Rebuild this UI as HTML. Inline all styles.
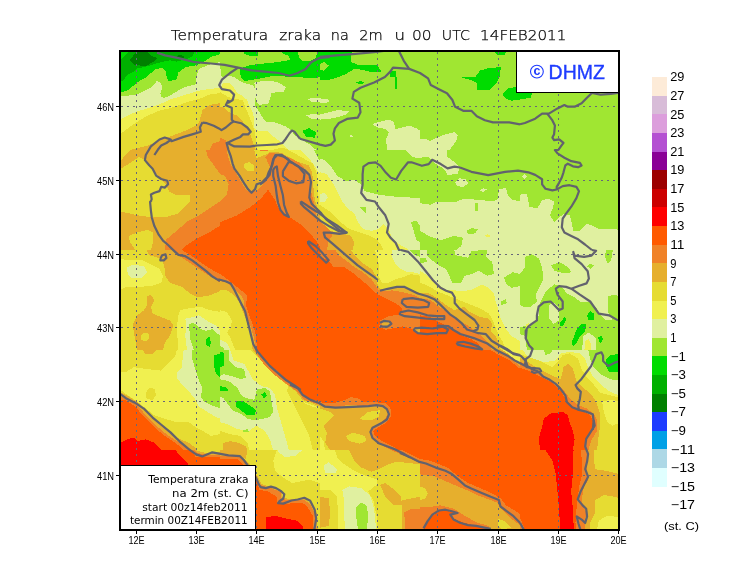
<!DOCTYPE html><html><head><meta charset="utf-8"><title>Temperatura zraka</title><style>html,body{margin:0;padding:0;background:#fff;}svg{display:block}text{font-family:"Liberation Sans",sans-serif}</style></head><body>
<svg width="740" height="582" viewBox="0 0 740 582" shape-rendering="crispEdges">
<rect width="740" height="582" fill="#fff"/>
<defs><clipPath id="mc"><rect x="121" y="52" width="497" height="477"/></clipPath></defs>
<g clip-path="url(#mc)">
<rect x="121" y="52" width="497" height="477" fill="#a0e632"/>
<svg x="120" y="50" width="100" height="100" viewBox="0 0 582 582" overflow="hidden" preserveAspectRatio="none">
<polygon points="0,268 50,265 100,258 150,235 185,215 215,180 240,195 245,220 235,250 240,272 255,278 290,266 340,235 380,215 440,200 445,150 460,110 520,85 582,70 582,582 0,582" fill="#e0f0a0"/>
<polygon points="0,405 50,378 100,358 150,343 210,323 260,303 291,288 400,255 445,240 500,230 582,220 582,582 0,582" fill="#f0f050"/>
<polygon points="0,490 50,453 100,418 150,388 215,358 260,345 291,340 400,300 460,285 520,260 582,250 582,582 0,582" fill="#e6dc32"/>
<polygon points="582,310 520,320 480,350 460,420 440,440 380,470 300,500 230,525 160,558 120,566 80,577 60,582 582,582" fill="#e6af2d"/>
<polygon points="582,530 540,545 520,582 582,582" fill="#f08228"/>
<polygon points="0,0 582,0 582,25 530,40 500,60 470,75 440,90 380,100 340,130 330,170 291,180 280,180 270,150 265,120 250,105 210,110 185,130 150,160 105,185 75,210 45,235 8,245 0,245" fill="#00dc00"/>
<polygon points="64,0 440,0 420,40 380,55 330,68 291,60 270,65 240,70 190,85 140,100 100,108 80,125 45,145 20,174 6,185 0,185 0,58" fill="#00b000"/>
<polygon points="105,0 146,0 175,29 215,47 204,64 151,93 81,87 58,58 76,35" fill="#008000"/>
<polygon points="330,35 350,28 380,40 360,50 335,48" fill="#008000"/>
</svg>
<svg x="220" y="50" width="100" height="100" viewBox="0 0 582 582" overflow="hidden" preserveAspectRatio="none">
<polygon points="0,99 5,119 5,149 20,159 55,149 84,159 115,179 146,194 190,205 210,230 207,274 203,324 230,363 253,401 269,418 313,418 340,429 385,445 412,467 434,495 467,517 495,533 535,559 559,582 0,582" fill="#e0f0a0"/>
<polygon points="200,190 260,178 330,185 385,215 370,242 300,250 290,285 280,312 230,320 210,300" fill="#e0f0a0"/>
<polygon points="510,285 545,278 582,282 582,300 540,305" fill="#e0f0a0"/>
<polygon points="500,380 540,372 582,378 582,402 530,400" fill="#e0f0a0"/>
<polygon points="0,219 20,194 55,194 80,219 105,254 122,262 159,291 170,324 192,363 197,401 200,456 230,473 275,473 307,501 335,522 357,539 379,561 396,582 0,582" fill="#f0f050"/>
<polygon points="0,244 12,256 29,262 47,274 87,285 132,291 148,335 170,385 186,429 203,473 208,511 214,550 219,582 0,582" fill="#e6dc32"/>
<polygon points="0,333 23,334 47,358 70,372 93,378 120,401 154,445 175,484 186,522 197,550 208,582 0,582" fill="#e6af2d"/>
<polygon points="279,582 313,579 362,568 395,579 399,582" fill="#e6dc32"/>
<polygon points="0,512 35,524 47,582 0,582" fill="#f08228"/>
<polygon points="139,12 223,12 223,32 175,35 140,23" fill="#00dc00"/>
<polygon points="355,12 454,12 460,47 483,64 524,64 559,47 565,12 582,12 582,157 530,165 452,157 372,154 294,154 215,169 145,181 121,157 113,110 176,87 255,79 333,71 407,58 402,35 372,23" fill="#00dc00"/>
<polygon points="480,470 520,455 560,480 550,510 500,505" fill="#00dc00"/>
</svg>
<svg x="320" y="50" width="100" height="100" viewBox="0 0 582 582" overflow="hidden" preserveAspectRatio="none">
<polygon points="0,282 45,285 55,298 40,308 0,308" fill="#e0f0a0"/>
<polygon points="0,375 60,360 100,350 170,355 150,375 110,390 60,400 0,405" fill="#e0f0a0"/>
<polygon points="305,430 360,415 400,405 430,420 440,460 480,450 520,440 560,455 582,470 582,582 390,582 385,520 400,480 380,460 330,450" fill="#e0f0a0"/>
<polygon points="175,495 188,495 190,505 176,505" fill="#e0f0a0"/>
<polygon points="0,0 190,0 180,40 180,70 230,90 280,85 330,85 350,115 360,125 300,130 250,115 200,110 150,140 100,160 60,172 0,172" fill="#00dc00"/>
<polygon points="0,80 25,70 50,90 20,120 0,115" fill="#a0e632"/>
<polygon points="405,125 440,120 440,160 410,160" fill="#00dc00"/>
<polygon points="438,160 446,160 446,225 438,225" fill="#00dc00"/>
<polygon points="205,190 235,180 260,192 235,200" fill="#00dc00"/>
</svg>
<svg x="420" y="50" width="100" height="100" viewBox="0 0 582 582" overflow="hidden" preserveAspectRatio="none">
<polygon points="0,520 40,520 60,530 100,510 150,490 200,478 220,495 210,530 190,560 170,582 0,582" fill="#e0f0a0"/>
<polygon points="245,155 320,160 350,120 400,105 470,100 465,150 440,200 410,230 330,230 330,190 300,175 245,162" fill="#00dc00"/>
<polygon points="430,0 510,0 490,30 450,32" fill="#00dc00"/>
<polygon points="480,260 510,225 560,215 582,215 582,290 530,295 500,285" fill="#00dc00"/>
</svg>
<svg x="520" y="50" width="100" height="100" viewBox="0 0 582 582" overflow="hidden" preserveAspectRatio="none">
<polygon points="0,237 70,237 65,280 0,285" fill="#00dc00"/>
</svg>
<svg x="120" y="150" width="100" height="100" viewBox="0 0 582 582" overflow="hidden" preserveAspectRatio="none">
<polygon points="0,0 582,0 582,582 0,582" fill="#e6af2d"/>
<polygon points="0,0 60,0 40,20 8,59 0,62" fill="#e6dc32"/>
<polygon points="0,110 20,100 60,75 110,40 150,60 190,120 230,160 265,200 290,245 330,262 410,265 405,300 340,370 260,392 190,392 100,380 40,365 0,360" fill="#e6dc32"/>
<polygon points="50,500 100,480 160,465 190,480 195,530 180,582 90,582 60,540" fill="#e6dc32"/>
<polygon points="500,0 582,0 582,140 540,80 510,40" fill="#f08228"/>
<polygon points="582,300 520,340 460,380 400,410 330,470 270,520 260,582 582,582" fill="#f08228"/>
<polygon points="582,440 520,480 440,520 380,560 360,582 582,582" fill="#ff5a00"/>
</svg>
<svg x="220" y="150" width="100" height="100" viewBox="0 0 582 582" overflow="hidden" preserveAspectRatio="none">
<polygon points="0,0 582,0 582,582 0,582" fill="#f08228"/>
<polygon points="40,0 200,0 210,47 244,35 268,47 290,100 270,160 250,200 220,230 180,250 150,230 120,180 90,130 60,80 45,30" fill="#e6af2d"/>
<polygon points="0,140 30,150 50,200 40,260 0,300" fill="#e6af2d"/>
<polygon points="140,80 170,70 200,90 195,120 160,125 140,105" fill="#e6dc32"/>
<polygon points="200,0 230,2 262,8 291,0 407,0 434,19 472,41 501,58 539,77 553,112 564,140 567,175 570,210 574,279 581,336 582,338 582,367 567,336 553,294 546,244 542,196 539,154 532,119 518,91 483,79 439,63 406,44 362,19 323,10 285,19 244,35 210,47" fill="#e6dc32"/>
<polygon points="244,35 285,19 323,10 362,19 406,44 439,63 483,79 518,91 532,119 539,154 542,196 546,244 553,294 567,336 582,367 582,420 560,380 545,300 530,240 520,170 500,120 470,80 420,50 360,30 320,20 290,12 262,47" fill="#e6af2d"/>
<polygon points="396,0 469,0 511,42 546,84 567,119 582,140 582,338 581,336 574,279 570,210 567,175 564,140 553,112 539,77 501,58 472,41 434,19" fill="#f0f050"/>
<polygon points="469,0 546,0 560,28 574,56 582,61 582,140 567,119 546,84 511,42" fill="#e0f0a0"/>
<polygon points="546,0 582,0 582,61 574,56 560,28" fill="#a0e632"/>
<polygon points="0,420 100,380 180,330 240,280 280,230 320,290 345,350 420,400 480,440 520,480 560,530 582,560 582,582 0,582" fill="#ff5a00"/>
</svg>
<svg x="320" y="150" width="100" height="100" viewBox="0 0 582 582" overflow="hidden" preserveAspectRatio="none">
<polygon points="0,50 30,60 60,90 100,150 150,180 200,175 240,200 260,240 340,260 420,270 500,275 582,280 582,582 0,582" fill="#e0f0a0"/>
<polygon points="500,0 582,0 582,50 540,40" fill="#e0f0a0"/>
<polygon points="230,330 270,335 265,365" fill="#a0e632"/>
<polygon points="530,420 560,410 582,440 582,540 560,520" fill="#a0e632"/>
<polygon points="0,130 40,140 80,200 110,260 130,300 160,340 200,370 220,420 250,460 300,470 340,460 370,430 400,460 420,520 480,560 520,582 0,582" fill="#f0f050"/>
<polygon points="0,255 30,250 45,275 30,300 0,300" fill="#e0f0a0"/>
<polygon points="0,320 60,360 120,420 170,460 230,480 290,500 330,520 360,560 370,582 0,582" fill="#e6dc32"/>
<polygon points="0,400 50,470 110,480 180,500 200,540 190,582 0,582" fill="#e6af2d"/>
<polygon points="0,420 30,440 60,470 70,500 50,530 40,582 0,582" fill="#f08228"/>
</svg>
<svg x="420" y="150" width="100" height="100" viewBox="0 0 582 582" overflow="hidden" preserveAspectRatio="none">
<polygon points="0,0 155,0 160,40 200,70 230,100 220,140 160,145 140,110 90,80 50,40 0,45" fill="#e0f0a0"/>
<polygon points="205,190 230,165 265,170 280,195 250,215 215,210" fill="#e0f0a0"/>
<polygon points="345,235 370,222 390,230 365,245" fill="#e0f0a0"/>
<polygon points="0,310 60,318 100,300 200,305 250,285 350,290 420,300 450,290 460,230 500,220 510,260 540,290 582,300 582,582 0,582" fill="#e0f0a0"/>
<polygon points="0,470 60,505 120,525 200,500 250,510 240,560 210,582 0,582" fill="#a0e632"/>
<polygon points="270,470 300,455 340,460 320,485 280,492" fill="#a0e632"/>
<polygon points="322,310 335,310 335,355 322,355" fill="#a0e632"/>
<polygon points="375,500 395,490 415,500 395,510" fill="#f0f050"/>
</svg>
<svg x="520" y="150" width="100" height="100" viewBox="0 0 582 582" overflow="hidden" preserveAspectRatio="none">
<polygon points="0,260 40,255 55,330 100,340 130,290 170,285 200,300 190,340 175,380 200,420 230,390 260,370 290,380 300,420 310,470 350,470 390,430 420,440 460,460 520,460 560,460 582,470 582,582 0,582" fill="#e0f0a0"/>
<polygon points="10,155 25,140 40,155 25,170" fill="#e0f0a0"/>
</svg>
<svg x="120" y="250" width="100" height="100" viewBox="0 0 582 582" overflow="hidden" preserveAspectRatio="none">
<polygon points="0,0 582,0 582,582 0,582" fill="#e6dc32"/>
<polygon points="0,50 40,60 130,60 190,90 230,110 250,150 240,190 180,210 100,215 40,215 0,230" fill="#f0f050"/>
<polygon points="40,100 80,85 140,95 160,130 130,160 70,165 45,140" fill="#e0f0a0"/>
<polygon points="155,0 300,0 340,30 400,70 460,110 520,150 582,190 582,240 520,265 450,275 410,255 360,215 290,190 262,150 258,90 240,50 170,30" fill="#e6af2d"/>
<polygon points="310,0 582,0 582,190 520,150 460,110 400,70 340,30" fill="#f08228"/>
<polygon points="360,0 582,0 582,140 560,130 480,80 410,30" fill="#ff5a00"/>
<polygon points="75,430 100,380 140,350 160,320 160,270 180,260 200,290 180,330 190,370 240,390 290,410 310,440 290,500 260,540 250,582 100,582 90,530 80,480" fill="#e6af2d"/>
<polygon points="120,500 140,480 165,485 170,515 150,530 125,525" fill="#e6dc32"/>
<polygon points="350,350 400,340 470,330 520,350 582,360 582,582 340,582 330,450 340,380" fill="#f0f050"/>
<polygon points="380,400 430,390 460,380 520,420 560,440 582,470 582,582 390,582 380,500 385,440" fill="#e0f0a0"/>
<polygon points="400,430 430,425 470,460 500,470 540,460 582,500 582,582 430,582 410,520" fill="#a0e632"/>
<polygon points="500,520 520,505 530,540 520,565 500,550" fill="#00dc00"/>
</svg>
<svg x="220" y="250" width="100" height="100" viewBox="0 0 582 582" overflow="hidden" preserveAspectRatio="none">
<polygon points="0,0 582,0 582,582 0,582" fill="#ff5a00"/>
<polygon points="0,140 30,160 80,200 130,240 160,270 150,320 170,380 190,430 210,500 215,582 0,582" fill="#f08228"/>
<polygon points="0,180 40,190 80,220 120,260 140,300 140,340 160,400 180,450 200,520 205,582 0,582" fill="#e6af2d"/>
<polygon points="0,230 40,235 80,260 110,300 130,350 150,400 165,450 180,500 190,582 0,582" fill="#e6dc32"/>
<polygon points="0,350 40,360 70,410 60,450 40,480 60,510 80,560 90,582 0,582" fill="#f0f050"/>
<polygon points="0,520 40,540 60,582 0,582" fill="#e0f0a0"/>
<polygon points="0,560 20,570 25,582 0,582" fill="#a0e632"/>
</svg>
<svg x="320" y="250" width="100" height="100" viewBox="0 0 582 582" overflow="hidden" preserveAspectRatio="none">
<polygon points="0,0 582,0 582,582 0,582" fill="#ff5a00"/>
<polygon points="0,0 582,0 582,490 540,460 480,445 430,455 380,465 345,445 350,410 400,385 470,375 480,340 440,310 390,285 340,260 300,230 260,190 200,140 140,100 80,100 50,60 0,40" fill="#f08228"/>
<polygon points="90,0 582,0 582,280 540,260 480,245 420,235 380,240 340,230 320,200 300,170 250,130 200,100 150,60 110,30" fill="#e6af2d"/>
<polygon points="360,420 385,408 410,420 400,440 365,440" fill="#e6af2d"/>
<polygon points="550,460 582,450 582,485 560,480" fill="#e6af2d"/>
<polygon points="180,0 582,0 582,250 520,225 460,215 400,225 350,230 330,190 325,150 300,110 240,70 200,30" fill="#e6dc32"/>
<polygon points="320,0 582,0 582,150 530,140 480,160 440,170 400,190 360,190 340,150 345,100 335,50" fill="#f0f050"/>
<polygon points="420,0 582,0 582,140 540,130 500,125 470,110 440,80 420,40" fill="#e0f0a0"/>
<polygon points="520,0 582,0 582,40 550,30" fill="#a0e632"/>
</svg>
<svg x="420" y="250" width="100" height="100" viewBox="0 0 582 582" overflow="hidden" preserveAspectRatio="none">
<polygon points="0,0 582,0 582,582 0,582" fill="#e0f0a0"/>
<polygon points="40,0 200,0 205,30 280,45 300,5 390,0 385,40 420,70 430,140 390,150 340,120 300,140 260,150 240,190 190,195 175,160 150,110 110,90 70,60 40,30" fill="#a0e632"/>
<polygon points="0,50 30,45 45,65 0,80" fill="#a0e632"/>
<polygon points="490,160 540,130 582,140 582,210 530,220 500,195" fill="#a0e632"/>
<polygon points="470,300 500,285 505,310 475,320" fill="#a0e632"/>
<polygon points="0,120 30,140 60,170 100,200 150,230 200,235 250,240 300,230 340,210 360,200 400,220 430,250 440,300 460,360 470,400 500,460 530,500 582,530 582,582 0,582" fill="#f0f050"/>
<polygon points="0,190 50,210 100,240 200,280 250,300 300,320 350,340 400,370 420,400 440,450 460,500 480,530 500,582 0,582" fill="#e6dc32"/>
<polygon points="0,250 50,250 100,280 150,320 200,350 260,330 290,360 350,390 400,400 420,430 410,470 440,500 460,540 470,582 0,582" fill="#e6af2d"/>
<polygon points="0,280 60,290 110,330 170,370 220,410 280,440 330,480 370,510 400,540 420,582 0,582" fill="#f08228"/>
<polygon points="0,380 60,390 110,420 150,440 200,470 250,500 300,520 340,545 360,582 0,582" fill="#ff5a00"/>
</svg>
<svg x="520" y="250" width="100" height="100" viewBox="0 0 582 582" overflow="hidden" preserveAspectRatio="none">
<polygon points="0,0 582,0 582,582 0,582" fill="#e0f0a0"/>
<polygon points="0,140 30,100 30,40 70,25 110,50 130,110 135,170 110,220 90,260 100,300 60,330 20,330 0,320" fill="#a0e632"/>
<polygon points="120,300 150,240 200,200 240,210 270,250 310,270 350,300 400,300 440,330 470,380 500,410 540,410 582,420 582,582 0,582 0,450 40,440 90,420 110,380 110,330" fill="#a0e632"/>
<polygon points="170,320 200,305 225,330 225,410 195,430 170,400" fill="#e0f0a0"/>
<polygon points="0,490 30,500 40,582 0,582" fill="#e0f0a0"/>
<polygon points="370,500 400,480 440,510 440,582 360,582" fill="#e0f0a0"/>
<polygon points="380,530 400,520 415,550 410,582 375,582" fill="#f0f050"/>
<polygon points="30,435 50,425 60,445 40,455" fill="#f0f050"/>
<polygon points="180,90 230,70 280,100 300,130 250,135 200,120" fill="#a0e632"/>
<polygon points="500,0 540,0 530,60 510,80 495,40" fill="#a0e632"/>
<polygon points="510,270 550,260 582,270 582,420 540,410 510,360" fill="#a0e632"/>
<polygon points="390,95 410,80 430,90 410,110" fill="#a0e632"/>
<polygon points="390,380 410,355 430,370 430,410 400,410" fill="#00dc00"/>
<polygon points="300,540 330,460 360,430 385,430 380,470 350,500 330,540 310,560" fill="#00dc00"/>
<polygon points="455,510 475,500 485,520 465,545" fill="#00dc00"/>
<polygon points="235,420 260,390 270,400 250,440 235,440" fill="#00dc00"/>
</svg>
<svg x="120" y="350" width="100" height="100" viewBox="0 0 582 582" overflow="hidden" preserveAspectRatio="none">
<polygon points="0,0 582,0 582,582 0,582" fill="#f0f050"/>
<polygon points="0,0 330,0 320,40 270,90 240,120 150,110 80,100 30,130 0,130" fill="#e6dc32"/>
<polygon points="130,0 210,0 190,25 150,25" fill="#e6af2d"/>
<polygon points="150,250 170,220 200,225 210,260 190,290 155,285" fill="#e6dc32"/>
<polygon points="330,130 360,100 370,0 582,0 582,400 540,380 460,330 440,290 400,240 360,200 330,160" fill="#e0f0a0"/>
<polygon points="420,0 582,0 582,340 530,320 490,300 470,270 480,220 460,180 440,120 420,50" fill="#a0e632"/>
<polygon points="550,30 582,20 582,160 555,130 545,80" fill="#00dc00"/>
<polygon points="0,230 40,260 100,300 150,340 200,380 260,400 330,420 400,420 440,450 480,470 530,500 582,490 582,582 0,582" fill="#e6dc32"/>
<polygon points="0,245 50,270 110,310 170,370 230,430 290,480 350,520 400,540 440,570 445,582 0,582" fill="#e6af2d"/>
<polygon points="0,270 40,285 100,320 150,380 210,440 270,490 330,530 380,555 420,582 0,582" fill="#f08228"/>
<polygon points="0,290 30,290 90,330 140,390 200,450 260,500 320,540 360,570 370,582 0,582" fill="#ff5a00"/>
<polygon points="0,540 40,520 80,510 100,530 150,520 200,540 240,582 0,582" fill="#ff0000"/>
</svg>
<svg x="220" y="350" width="100" height="100" viewBox="0 0 582 582" overflow="hidden" preserveAspectRatio="none">
<polygon points="0,0 582,0 582,582 0,582" fill="#f0f050"/>
<polygon points="0,0 60,0 80,60 140,80 170,130 190,170 240,210 290,220 320,260 330,330 350,400 370,470 390,540 400,582 310,582 290,520 260,470 210,440 170,470 100,460 40,430 0,420" fill="#e0f0a0"/>
<polygon points="0,0 50,0 50,60 90,100 140,110 150,160 120,170 60,150 20,140 0,150" fill="#a0e632"/>
<polygon points="0,170 50,180 100,220 120,260 150,280 200,290 215,230 260,220 290,240 300,300 310,360 290,390 250,400 200,410 160,400 120,370 70,350 50,320 20,280 0,270" fill="#a0e632"/>
<polygon points="130,470 160,460 170,480 135,480" fill="#a0e632"/>
<polygon points="0,10 20,10 25,90 0,100" fill="#00dc00"/>
<polygon points="0,210 40,220 50,240 0,240" fill="#00dc00"/>
<polygon points="95,300 130,295 170,320 210,350 200,380 160,380 120,350 95,330" fill="#00dc00"/>
<polygon points="240,260 260,245 275,265 255,280" fill="#00dc00"/>
<polygon points="0,470 60,490 120,500 160,540 170,582 0,582" fill="#e6dc32"/>
<polygon points="20,540 60,530 110,540 150,560 160,582 20,582" fill="#e6af2d"/>
<polygon points="400,200 450,260 490,310 540,330 582,340 582,582 540,582 520,500 480,420 450,360 420,300 390,240" fill="#e6dc32"/>
<polygon points="180,0 582,0 582,340 540,320 480,300 440,250 390,200 330,150 290,110 240,60" fill="#e6dc32"/>
<polygon points="190,0 582,0 582,330 540,310 480,290 440,240 400,210 350,170 300,130 240,60" fill="#e6af2d"/>
<polygon points="200,0 582,0 582,320 540,305 490,290 460,250 420,220 370,185 310,140 260,90 225,40" fill="#f08228"/>
<polygon points="220,0 582,0 582,300 540,290 500,280 470,240 430,210 380,170 330,120 280,80 240,30" fill="#ff5a00"/>
</svg>
<svg x="320" y="350" width="100" height="100" viewBox="0 0 582 582" overflow="hidden" preserveAspectRatio="none">
<polygon points="0,0 582,0 582,582 0,582" fill="#ff5a00"/>
<polygon points="0,305 80,310 150,290 180,275 220,280 250,300 330,305 380,310 410,340 415,380 390,420 340,450 310,470 320,500 360,530 400,550 440,570 450,582 0,582" fill="#f08228"/>
<polygon points="0,320 100,335 160,320 250,325 330,320 380,335 395,370 375,405 320,445 290,470 300,510 340,540 380,565 410,582 0,582" fill="#e6af2d"/>
<polygon points="0,340 60,360 80,380 50,410 20,440 40,480 30,540 60,582 0,582" fill="#e6dc32"/>
<polygon points="230,400 280,360 350,350 340,390 300,410 260,410" fill="#e6dc32"/>
<polygon points="150,500 190,480 260,500 270,530 230,545 170,530" fill="#e6dc32"/>
<polygon points="0,500 20,530 30,582 0,582" fill="#f0f050"/>
</svg>
<svg x="420" y="350" width="100" height="100" viewBox="0 0 582 582" overflow="hidden" preserveAspectRatio="none">
<polygon points="0,0 582,0 582,582 0,582" fill="#ff5a00"/>
<polygon points="410,0 582,0 582,110 520,60 460,30" fill="#f08228"/>
<polygon points="450,0 582,0 582,95 540,60 490,25" fill="#e6af2d"/>
<polygon points="480,0 582,0 582,80 540,45 510,20" fill="#f0f050"/>
</svg>
<svg x="520" y="350" width="100" height="100" viewBox="0 0 582 582" overflow="hidden" preserveAspectRatio="none">
<polygon points="0,0 582,0 582,582 0,582" fill="#f0f050"/>
<polygon points="18,0 588,0 588,270 518,240 468,200 428,160 398,110 378,50 348,20 288,10 238,20 208,60 148,70 88,60 38,30" fill="#e0f0a0"/>
<polygon points="398,0 588,0 588,180 528,170 468,140 428,100 408,50" fill="#a0e632"/>
<polygon points="138,0 188,0 178,20 148,30" fill="#a0e632"/>
<polygon points="498,60 528,30 588,20 588,130 518,130 503,100" fill="#00dc00"/>
<polygon points="-12,20 48,40 108,60 188,100 228,60 248,30 288,20 338,50 358,110 388,160 428,200 468,250 588,280 588,582 -12,582" fill="#e6dc32"/>
<polygon points="478,300 528,290 588,300 588,420 538,440 508,420 488,360" fill="#f0f050"/>
<polygon points="-12,40 48,70 108,110 188,150 238,170 253,100 278,80 308,110 328,180 368,220 408,250 443,300 463,360 468,430 458,500 448,582 -12,582" fill="#e6af2d"/>
<polygon points="-12,60 68,100 138,150 208,190 258,240 288,280 338,320 388,340 428,370 448,410 448,470 418,520 398,582 -12,582" fill="#f08228"/>
<polygon points="-12,100 48,120 108,150 188,190 238,240 268,290 308,330 368,360 408,380 428,420 418,470 388,520 378,582 -12,582" fill="#ff5a00"/>
<polygon points="138,400 178,370 248,360 278,380 288,420 308,470 318,520 308,582 118,582 108,520 128,450" fill="#ff0000"/>
</svg>
<svg x="120" y="450" width="100" height="100" viewBox="0 0 582 582" overflow="hidden" preserveAspectRatio="none">
<polygon points="0,0 582,0 582,582 0,582" fill="#ff0000"/>
<polygon points="260,-58 582,-58 582,87 400,87 380,62 340,22 300,-28" fill="#ff5a00"/>
<polygon points="300,-58 582,-58 582,42 440,42 420,2 360,-28" fill="#f08228"/>
<polygon points="320,-58 582,-58 582,27 500,27 450,17 420,-13 370,-43" fill="#e6af2d"/>
<polygon points="340,-58 582,-58 582,12 500,17 455,7 425,-23 380,-48" fill="#e6dc32"/>
</svg>
<svg x="220" y="450" width="100" height="100" viewBox="0 0 582 582" overflow="hidden" preserveAspectRatio="none">
<polygon points="0,0 582,0 582,582 0,582" fill="#e6dc32"/>
<polygon points="330,-58 582,-58 582,192 520,172 470,182 420,192 370,162 320,122 310,62 330,2" fill="#f0f050"/>
<polygon points="330,-58 500,-58 490,-8 440,32 380,42 340,12" fill="#e0f0a0"/>
<polygon points="0,-58 150,-58 160,2 150,52 100,32 0,32" fill="#e6af2d"/>
<polygon points="0,32 110,27 160,67 215,147 240,197 300,217 355,237 365,277 410,287 490,282 530,312 565,372 570,524 0,524" fill="#e6af2d"/>
<polygon points="0,34 110,32 155,70 212,152 235,204 300,224 352,244 358,284 410,294 490,290 528,320 558,382 562,524 0,524" fill="#f08228"/>
<polygon points="0,52 100,52 140,92 210,172 230,232 280,242 330,272 330,312 400,312 480,307 510,332 540,382 540,524 0,524" fill="#ff5a00"/>
<polygon points="270,392 320,382 400,402 450,412 480,442 490,524 270,524" fill="#ff0000"/>
</svg>
<svg x="320" y="450" width="100" height="100" viewBox="0 0 582 582" overflow="hidden" preserveAspectRatio="none">
<polygon points="0,0 582,0 582,582 0,582" fill="#f0f050"/>
<polygon points="70,-58 582,-58 582,524 340,524 330,392 310,292 280,242 330,202 330,172 270,152 200,122 140,82 100,42" fill="#e6dc32"/>
<polygon points="0,232 60,232 100,272 110,524 0,524" fill="#e6dc32"/>
<polygon points="150,-58 310,-58 350,-28 430,2 520,42 582,62 582,82 520,77 450,67 400,82 340,112 300,127 240,102 200,62 170,2" fill="#e6af2d"/>
<polygon points="350,202 380,192 420,222 470,272 480,322 430,322 380,272" fill="#e6af2d"/>
<polygon points="0,272 50,282 60,362 50,442 0,452" fill="#e6af2d"/>
<polygon points="480,292 582,272 582,524 480,524" fill="#e6af2d"/>
<polygon points="340,-58 582,-58 582,77 530,52 440,12 360,-28" fill="#f08228"/>
<polygon points="490,362 530,342 582,342 582,524 500,524" fill="#f08228"/>
<polygon points="380,-58 582,-58 582,52 520,22 450,-13" fill="#ff5a00"/>
<polygon points="130,232 170,212 240,222 290,262 310,322 320,382 330,524 150,524 140,372 140,292" fill="#e0f0a0"/>
<polygon points="20,92 50,72 100,112 90,132 30,132" fill="#e0f0a0"/>
<polygon points="210,332 240,307 270,322 280,372 270,524 230,524 210,382" fill="#a0e632"/>
</svg>
<svg x="420" y="450" width="100" height="100" viewBox="0 0 582 582" overflow="hidden" preserveAspectRatio="none">
<polygon points="0,0 582,0 582,582 0,582" fill="#ff5a00"/>
<polygon points="0,52 60,62 160,102 220,152 280,192 350,222 420,252 470,282 500,322 550,352 582,372 582,582 0,582" fill="#f08228"/>
<polygon points="0,142 80,152 150,182 220,212 270,232 330,262 400,287 450,307 470,342 520,392 582,437 582,582 0,582" fill="#e6af2d"/>
<polygon points="0,212 30,222 45,252 30,282 0,292" fill="#e6dc32"/>
<polygon points="455,402 490,412 530,452 480,462 455,442" fill="#e6dc32"/>
<polygon points="0,332 60,332 120,322 200,342 260,382 330,422 400,442 420,582 0,582" fill="#f08228"/>
<polygon points="20,462 60,392 120,352 200,362 180,392 250,422 330,442 380,452 400,462 400,582 0,582" fill="#ff5a00"/>
</svg>
<svg x="520" y="450" width="100" height="100" viewBox="0 0 582 582" overflow="hidden" preserveAspectRatio="none">
<polygon points="0,0 582,0 582,582 0,582" fill="#ff5a00"/>
<polygon points="108,-58 318,-58 308,42 308,142 298,242 308,342 318,582 238,582 228,342 218,242 208,142 188,62 148,2" fill="#ff0000"/>
<polygon points="348,-58 588,-58 588,582 328,582 323,422 333,292 348,192 363,142 358,42" fill="#f08228"/>
<polygon points="373,-58 588,-58 588,582 368,582 378,442 383,362 358,292 373,212 398,172 388,122 388,22" fill="#e6af2d"/>
<polygon points="418,-58 588,-58 588,142 508,122 438,112 428,42 428,-28" fill="#e6dc32"/>
<polygon points="438,292 488,262 548,272 588,282 588,582 408,582 408,422 438,362" fill="#e6dc32"/>
<polygon points="518,-58 588,-58 588,2 538,-18" fill="#f0f050"/>
<polygon points="458,412 508,382 588,392 588,582 428,582" fill="#f0f050"/>
<polygon points="-12,382 8,412 28,462 28,582 -12,582" fill="#f08228"/>
</svg>
<line x1="136.5" y1="52" x2="136.5" y2="529" stroke="#66667a" stroke-width="1" stroke-dasharray="2 4"/>
<line x1="196.5" y1="52" x2="196.5" y2="529" stroke="#66667a" stroke-width="1" stroke-dasharray="2 4"/>
<line x1="256.5" y1="52" x2="256.5" y2="529" stroke="#66667a" stroke-width="1" stroke-dasharray="2 4"/>
<line x1="317.5" y1="52" x2="317.5" y2="529" stroke="#66667a" stroke-width="1" stroke-dasharray="2 4"/>
<line x1="377.5" y1="52" x2="377.5" y2="529" stroke="#66667a" stroke-width="1" stroke-dasharray="2 4"/>
<line x1="437.5" y1="52" x2="437.5" y2="529" stroke="#66667a" stroke-width="1" stroke-dasharray="2 4"/>
<line x1="498.5" y1="52" x2="498.5" y2="529" stroke="#66667a" stroke-width="1" stroke-dasharray="2 4"/>
<line x1="558.5" y1="52" x2="558.5" y2="529" stroke="#66667a" stroke-width="1" stroke-dasharray="2 4"/>
<line x1="121" y1="106.5" x2="618" y2="106.5" stroke="#66667a" stroke-width="1" stroke-dasharray="2 4"/>
<line x1="121" y1="180.5" x2="618" y2="180.5" stroke="#66667a" stroke-width="1" stroke-dasharray="2 4"/>
<line x1="121" y1="254.5" x2="618" y2="254.5" stroke="#66667a" stroke-width="1" stroke-dasharray="2 4"/>
<line x1="121" y1="327.5" x2="618" y2="327.5" stroke="#66667a" stroke-width="1" stroke-dasharray="2 4"/>
<line x1="121" y1="401.5" x2="618" y2="401.5" stroke="#66667a" stroke-width="1" stroke-dasharray="2 4"/>
<line x1="121" y1="475.5" x2="618" y2="475.5" stroke="#66667a" stroke-width="1" stroke-dasharray="2 4"/>
<polyline points="202.5,122.3 199.9,127.5 200.8,131.8 192.2,134.4 183.6,136.9 171.5,141.2 170.7,139.5 164.7,137.5 159.5,139.5 150.9,146.4 145.8,155.0 144.9,160.1 149.2,165.3 152.6,168.7 156.1,175.6 161.2,179.0 167.3,180.8 168.1,184.2 164.7,187.6 161.2,186.8 159.5,191.1 154.4,192.8 150.9,194.5 151.8,200.0" fill="none" stroke="#62626e" stroke-width="2.2" stroke-linejoin="round" shape-rendering="auto"/>
<polyline points="170.7,139.9 166.4,143.0 161.2,145.5 157.8,149.8 154.4,155.0" fill="none" stroke="#62626e" stroke-width="2.2" stroke-linejoin="round" shape-rendering="auto"/>
<polyline points="151.8,200.0 150.1,202.0 150.9,210.6 151.8,217.5 154.4,226.1 158.7,234.7 163.0,240.7 168.1,245.0 173.3,250.1 178.4,254.9 185.3,256.2 192.2,260.4 199.0,265.6 205.9,270.8 212.8,276.8 220.0,281.1" fill="none" stroke="#62626e" stroke-width="2.2" stroke-linejoin="round" shape-rendering="auto"/>
<polyline points="160.4,258.7 162.1,255.3 165.5,254.4 166.4,257.9 163.8,260.4 160.4,260.4 160.4,258.7" fill="none" stroke="#62626e" stroke-width="2.2" stroke-linejoin="round" shape-rendering="auto"/>
<polyline points="218.2,279.3 225.5,281.3 230.6,283.4 233.7,288.6 236.8,294.7 240.9,303.0 245.1,311.2 247.1,319.5 249.2,327.7 251.2,336.0 253.3,344.2 257.4,351.4 263.6,358.7 269.8,365.9 278.0,373.1 286.3,380.3 294.5,385.5 300.7,390.0" fill="none" stroke="#62626e" stroke-width="2.2" stroke-linejoin="round" shape-rendering="auto"/>
<polyline points="290.0,384.4 298.2,388.6 302.4,394.7 310.6,399.9 318.9,403.0 325.1,406.7 335.4,407.7 347.7,407.1 358.0,406.7 368.4,406.1 376.6,405.1 382.8,406.1 386.9,409.2 389.0,414.3 386.9,419.5 380.7,423.6 372.5,427.7 370.4,431.9 372.5,438.0 378.7,443.2 386.9,446.3 395.2,449.4 403.4,453.5 410.0,457.6" fill="none" stroke="#62626e" stroke-width="2.2" stroke-linejoin="round" shape-rendering="auto"/>
<polyline points="400.0,453.0 409.7,457.0 419.5,461.9 425.9,463.5 435.7,467.6 445.4,470.8 451.9,474.1 458.4,479.7 464.9,485.4 471.3,488.6 481.1,492.7 490.8,496.8 498.9,500.0 500.5,506.5 507.0,511.3 513.5,516.2 520.0,522.7" fill="none" stroke="#62626e" stroke-width="2.2" stroke-linejoin="round" shape-rendering="auto"/>
<polyline points="423.5,528.4 427.6,521.1 432.4,514.6 438.9,510.5 445.4,509.7 451.9,511.3 457.6,513.0 450.3,514.6 453.5,519.5 460.0,522.7 468.1,525.1 476.2,525.9 484.3,527.6 490.8,528.9" fill="none" stroke="#62626e" stroke-width="2.2" stroke-linejoin="round" shape-rendering="auto"/>
<polyline points="500.0,345.5 506.9,348.9 513.7,354.1 520.6,355.8 525.8,360.9 527.5,366.1 532.6,369.5 537.8,371.2 543.0,376.4 549.8,379.8 555.0,383.3 560.1,388.4 565.3,395.3 567.0,402.2 572.2,407.3 579.0,409.9 585.9,411.6 592.8,414.2 593.6,421.1 592.8,430.0" fill="none" stroke="#62626e" stroke-width="2.2" stroke-linejoin="round" shape-rendering="auto"/>
<polyline points="525.8,366.9 530.9,367.8 539.5,368.7 541.2,371.2 534.4,373.0 530.9,371.2" fill="none" stroke="#62626e" stroke-width="2.2" stroke-linejoin="round" shape-rendering="auto"/>
<polyline points="526.6,330.0 525.8,338.6 529.2,345.5 532.6,348.9 530.1,355.8 525.8,359.2 524.9,365.2" fill="none" stroke="#62626e" stroke-width="2.2" stroke-linejoin="round" shape-rendering="auto"/>
<polyline points="619.9,360.9 615.1,362.6 608.2,366.1 603.1,360.9 603.1,355.8 601.4,352.3 596.2,354.1 594.5,358.4 591.1,366.1 585.9,373.0 580.8,379.8 575.6,385.0 577.3,388.4 580.8,391.9 579.9,398.7 578.2,405.6 579.0,410.8" fill="none" stroke="#62626e" stroke-width="2.2" stroke-linejoin="round" shape-rendering="auto"/>
<polyline points="593.7,420.0 594.7,425.7 589.9,433.2 586.2,438.9 585.2,446.5 588.1,454.0 587.1,461.6 585.2,469.1 588.1,476.7 584.3,484.3 580.5,491.8 577.7,499.4 582.4,505.1 586.2,508.8 587.1,516.4 585.2,523.0 582.4,520.2 576.7,516.4 578.6,524.0 580.5,530.0" fill="none" stroke="#62626e" stroke-width="2.2" stroke-linejoin="round" shape-rendering="auto"/>
<polyline points="520,522.7 524,530" fill="none" stroke="#62626e" stroke-width="2.2" stroke-linejoin="round" shape-rendering="auto"/>
<polyline points="400.8,250.0 408.4,251.9 417.8,261.4 425.4,270.8 433.0,280.3 440.5,287.8 446.2,290.7 451.9,292.6 454.7,297.3 454.7,303.0 459.5,308.6 467.0,314.3 474.6,320.0 478.4,325.7 477.4,329.5 472.7,331.3" fill="none" stroke="#62626e" stroke-width="2.2" stroke-linejoin="round" shape-rendering="auto"/>
<polyline points="380.0,290.7 387.6,288.8 397.0,286.9 404.6,286.9 412.2,290.7 417.8,293.5 427.3,296.3 434.9,299.6 440.5,304.9 446.2,310.5 450.0,314.3 455.7,318.1 461.3,322.8 467.0,329.5 472.7,331.3 478.4,333.2 485.9,334.2 491.6,340.8 501.1,346.5 512.4,353.1 520.0,355.0" fill="none" stroke="#62626e" stroke-width="2.2" stroke-linejoin="round" shape-rendering="auto"/>
<polyline points="402.7,299.2 412.2,298.2 423.5,300.1 429.2,303.0 428.2,306.8 417.8,307.7 406.5,306.8 401.8,303.0 402.7,299.2" fill="none" stroke="#62626e" stroke-width="2.2" stroke-linejoin="round" shape-rendering="auto"/>
<polyline points="399.9,312.4 408.4,310.5 417.8,312.4 427.3,315.3 436.8,316.2 444.3,316.2 444.3,319.1 434.9,319.1 425.4,318.5 414.1,317.2 404.6,316.2 399.9,314.3 399.9,312.4" fill="none" stroke="#62626e" stroke-width="2.2" stroke-linejoin="round" shape-rendering="auto"/>
<polyline points="380.0,322.8 383.8,320.9 389.5,321.5 391.4,323.8 387.6,326.6 381.9,326.6 380.0,325.7" fill="none" stroke="#62626e" stroke-width="2.2" stroke-linejoin="round" shape-rendering="auto"/>
<polyline points="414.1,328.5 421.6,327.6 433.0,328.5 442.4,326.6 448.1,329.5 446.2,333.2 436.8,333.2 427.3,334.2 417.8,333.2 414.1,330.4 414.1,328.5" fill="none" stroke="#62626e" stroke-width="2.2" stroke-linejoin="round" shape-rendering="auto"/>
<polyline points="436.8,325.7 448.1,326 453.5,330 460.3,334 473.8,338.1 487.3,343.5 496.8,350.3 507.6,355.7 515.7,361.1 526.5,366.5" fill="none" stroke="#62626e" stroke-width="2.2" stroke-linejoin="round" shape-rendering="auto"/>
<polyline points="456.6,342.7 463.2,341.8 470.8,343.6 478.4,346.5 482.2,349.3 474.6,348.4 465.1,346.5 457.6,344.6 456.6,342.7" fill="none" stroke="#62626e" stroke-width="2.2" stroke-linejoin="round" shape-rendering="auto"/>
<polyline points="260.0,184.5 264.8,180.9 269.6,174.9 271.5,166.5 273.2,159.2 275.6,154.9 281.7,154.9 288.9,160.4 296.1,165.3 304.5,170.1 309.3,174.9 311.0,182.1 310.0,190.5 309.3,197.7 311.7,203.7 316.5,208.6 321.3,213.4 326.2,219.4 332.2,224.2 339.4,230.2 346.6,232.6 339.4,233.8 329.8,232.6 323.7,232.6 325.0,237.4 332.2,243.4 340.6,250.7 349.0,257.9 357.4,265.1 365.8,271.1 374.3,277.1 377.9,280.0" fill="none" stroke="#62626e" stroke-width="2.2" stroke-linejoin="round" shape-rendering="auto"/>
<polyline points="282.9,171.3 288.9,161.7 292.5,162.9 298.5,166.5 304.5,173.7 303.3,182.1 296.1,183.3 288.9,180.9 282.9,176.1 282.9,171.3" fill="none" stroke="#62626e" stroke-width="2.2" stroke-linejoin="round" shape-rendering="auto"/>
<polyline points="274.4,167.7 276.8,166.5 278.0,176.1 280.4,185.7 282.9,195.3 284.1,205.0 286.5,212.2 288.9,217.0 284.1,214.6 280.4,209.8 278.0,202.5 276.8,195.3 275.6,185.7 273.2,176.1 273.2,170.1 274.4,167.7" fill="none" stroke="#62626e" stroke-width="2.2" stroke-linejoin="round" shape-rendering="auto"/>
<polyline points="300.9,201.3 308.1,206.2 317.7,212.2 327.4,219.4 337.0,225.4 346.6,232.6 339.4,231.4 329.8,226.6 320.1,220.6 311.7,213.4 304.5,207.4 300.9,203.7 300.9,201.3" fill="none" stroke="#62626e" stroke-width="2.2" stroke-linejoin="round" shape-rendering="auto"/>
<polyline points="308.1,241.0 315.3,245.8 322.5,253.1 328.6,260.3 326.2,262.7 318.9,255.5 311.7,248.3 308.1,243.4 308.1,241.0" fill="none" stroke="#62626e" stroke-width="2.2" stroke-linejoin="round" shape-rendering="auto"/>
<polyline points="202.6,122.7 206.9,123.2 213.7,125.8 218.9,128.4 221.5,130.1 225.8,127.5 230.9,123.2 233.5,121.5 241.2,123.2 247.3,127.5 250.7,131.8 248.1,134.4 243.0,134.4 240.4,136.9 234.4,139.5 229.2,142.1 226.6,143.0 228.4,149.8 230.9,156.7 232.6,163.6 234.4,168.7 239.5,175.6 244.7,184.2 248.1,189.3 251.5,192.8 255.0,189.3 256.7,184.2 261.9,182.5 267.0,177.3 268.7,172.2 272.2,165.3 273.9,158.4 277.3,155.0 284.2,156.7 289.3,160.1" fill="none" stroke="#62626e" stroke-width="2.2" stroke-linejoin="round" shape-rendering="auto"/>
<polyline points="228.4,100.0 225.8,105.2 231.8,107.7 231.8,113.7 231.8,119.8 233.5,121.5" fill="none" stroke="#62626e" stroke-width="2.2" stroke-linejoin="round" shape-rendering="auto"/>
<polyline points="227.5,143.0 234.4,146.4 249.8,146.7 256.7,145.5 267.0,145.0 277.3,144.3 282.5,143.0 285.9,138.7 289.3,133.5 291.9,130.6 294.5,131.8 297.9,136.1 300.0,138.7" fill="none" stroke="#62626e" stroke-width="2.2" stroke-linejoin="round" shape-rendering="auto"/>
<polyline points="157.0,52.7 165.1,55.4 178.6,58.1 194.9,62.2 211.1,63.5 224.6,64.9 238.1,67.6 251.6,70.3 265.1,71.6 278.6,73.0 289.5,75.7 297.6,73.0 305.7,68.9 311.1,62.2 319.2,58.1 330.0,56.8" fill="none" stroke="#62626e" stroke-width="2.2" stroke-linejoin="round" shape-rendering="auto"/>
<polyline points="238.1,67.6 230.0,73.0 221.9,79.7 219.2,85.1 221.9,89.2 230.0,90.5 234.1,94.6 232.7,100.0 228.6,102.7 228.4,100" fill="none" stroke="#62626e" stroke-width="2.2" stroke-linejoin="round" shape-rendering="auto"/>
<polyline points="320.0,56.8 336.2,55.4 352.4,54.1 374.1,52.2 390.3,50.0" fill="none" stroke="#62626e" stroke-width="2.2" stroke-linejoin="round" shape-rendering="auto"/>
<polyline points="398.4,50.0 403.8,60.8 409.2,68.9 420.0,73.0 428.1,78.4 430.8,85.1 438.9,89.2 447.0,93.2 452.4,100.0 455.1,106.8 463.2,110.8 471.4,110.8 476.8,116.2 484.9,120.3 493.0,122.4 509.2,122.4 520.0,124.3" fill="none" stroke="#62626e" stroke-width="2.2" stroke-linejoin="round" shape-rendering="auto"/>
<polyline points="300,138.7 320.0,144.6 325.4,145.9 330.8,144.6 334.9,140.5 333.5,133.8 334.9,128.4 338.9,123.0 347.0,118.9 357.8,117.6 360.5,112.2 359.2,102.7 352.4,98.6 353.8,91.9 360.5,87.8 374.1,82.4 384.9,77.0 390.3,71.6 393.0,67.6 409.2,68.9" fill="none" stroke="#62626e" stroke-width="2.2" stroke-linejoin="round" shape-rendering="auto"/>
<polyline points="460,167.5 454.5,166.6 447.6,168.4 440.8,164.1 432.2,159.8 428.7,164.1 421.9,165.8 411.5,162.3 408.1,162.3 401.2,170.9 396.1,179.5 390.9,177.8 385.8,172.6 380.6,165.8 375.5,162.3 368.6,163.2 363.4,166.6 362.6,174.4 362.6,184.7 361.7,189.8 361.2,193 366.4,199.8 375,201.5 378.4,206.7 385.3,215.3 388.7,223.9 387,232.5 390.4,237.6 395.6,242.8 399,250 400.8,250" fill="none" stroke="#62626e" stroke-width="2.2" stroke-linejoin="round" shape-rendering="auto"/>
<polyline points="460,167.5 471.4,171.8 488.2,175.2 505.1,171.8 518,170.6 528.3,172.3 535.2,174.9 542.1,179.2 542.1,184.4 545.5,188.7 552.4,190.4 556.7,189.5 562.7,186.1 569.5,185.2 576.4,186.9 579,191.2 576.4,198.1 571.3,206.7 566.1,213.6 562.7,218.7 561.8,227.3 564.4,232.5 571.3,235.9 578.1,239.3 585,244.5 591.9,250" fill="none" stroke="#62626e" stroke-width="2.2" stroke-linejoin="round" shape-rendering="auto"/>
<polyline points="556.7,189.5 556.7,186.9 559.2,182.6 561.8,177.5 563.5,172.3 565.3,165.5 567.8,163.7 573,166.3 578.1,167.2 581.6,165.5 579.9,162.9 571.3,161.2 564.4,157.7 557.5,153.4 554.9,150 558.4,150 561,146.2 563.5,142.8 559.2,139.3 554.1,140.2 552.4,137.6 554.1,134.2 554.9,125.6 552.4,120.4 547.2,113.6" fill="none" stroke="#62626e" stroke-width="2.2" stroke-linejoin="round" shape-rendering="auto"/>
<polyline points="520,124.3 524.9,123 535.2,118.7 542.1,113.6 548.9,113.6 557.5,108.4 564.4,105 567.8,106.7 574.7,106.7 581.6,103.3 586.7,98.1 591.9,93 600.5,94.7 610.8,93.8 618,93" fill="none" stroke="#62626e" stroke-width="2.2" stroke-linejoin="round" shape-rendering="auto"/>
<polyline points="591.9,250 596.1,250.8 591.3,255.7 584.1,256.9 574.5,255.7 573.3,252 574.5,258.1 581.7,264.1 587.7,271.3 588.9,278.6 586.5,283.4 579.3,285.8 571.3,288.7 566.1,286.9 559.2,286.1 555.8,288.7 557.5,294.7 562.7,301.5 562.7,308.4 559.2,310.1 554.1,305 550.6,301.5 543.8,302.4 538.6,306.7 536.9,315.3 536.9,320.4 531.7,323.9 528.3,326.5 525.7,330.8 525.8,338.6" fill="none" stroke="#62626e" stroke-width="2.2" stroke-linejoin="round" shape-rendering="auto"/>
<polyline points="571.3,288.7 579.9,294.7 590.2,301.5 598.8,313.6 609.1,315.3 618,320.4" fill="none" stroke="#62626e" stroke-width="2.2" stroke-linejoin="round" shape-rendering="auto"/>
<polyline points="120,393.8 125.9,398.2 134.9,402.7 143.8,408.6 152.7,417.6 161.6,425 170.5,432.4 179.5,441.3 188.4,448.8 196.1,454.4 202.2,456.4 212.3,452.3 228.5,455.4 240,456.2 244.1,460.3 246.2,463.4 251,470 256,477.8 258.6,484 260.6,487.1 265.8,488.1 270.9,486.6 276.1,488.1 281.2,491.2 284.3,494.3 283.3,498.5 279.2,501.5 278.1,503.1 283.3,503.6 291.5,500.5 297.7,499.5 304.3,497.8 310.2,500.8 314.7,509.7 316.2,518.6 314.7,527.6 314,530" fill="none" stroke="#62626e" stroke-width="2.2" stroke-linejoin="round" shape-rendering="auto"/>
</g>
<rect x="516.5" y="51" width="102" height="41.5" fill="#fff" stroke="#000" stroke-width="1"/>
<circle cx="536.9" cy="71.6" r="6.4" fill="none" stroke="#1e3cff" stroke-width="1.1" shape-rendering="auto"/>
<text x="533.4" y="75.0" font-size="12.5" font-weight="bold" fill="#1e3cff">c</text>
<text x="548.6" y="78.6" font-size="19.5" textLength="56.2" lengthAdjust="spacingAndGlyphs" fill="#1e3cff" stroke="#1e3cff" stroke-width="0.35">DHMZ</text>
<rect x="120.5" y="465.5" width="135" height="64" fill="#fff" stroke="#000" stroke-width="1"/>
<text x="148.3" y="482.9" font-size="9.7" textLength="100.3" lengthAdjust="spacingAndGlyphs" fill="#000" style="font-family:'DejaVu Sans',sans-serif">Temperatura zraka</text>
<text x="172.0" y="497" font-size="9.7" textLength="76.6" lengthAdjust="spacingAndGlyphs" fill="#000" style="font-family:'DejaVu Sans',sans-serif">na 2m (st. C)</text>
<text x="142.2" y="510.7" font-size="9.7" textLength="105.5" lengthAdjust="spacingAndGlyphs" fill="#000" style="font-family:'DejaVu Sans',sans-serif">start 00z14feb2011</text>
<text x="129.9" y="523.9" font-size="9.7" textLength="117.8" lengthAdjust="spacingAndGlyphs" fill="#000" style="font-family:'DejaVu Sans',sans-serif">termin 00Z14FEB2011</text>
<rect x="120" y="51" width="498.5" height="478.5" fill="none" stroke="#000" stroke-width="2"/>
<line x1="136.5" y1="531" x2="136.5" y2="534" stroke="#000" stroke-width="1"/>
<text x="128.4" y="543.9" font-size="11.2" textLength="16.2" lengthAdjust="spacingAndGlyphs" fill="#000">12E</text>
<line x1="196.5" y1="531" x2="196.5" y2="534" stroke="#000" stroke-width="1"/>
<text x="188.4" y="543.9" font-size="11.2" textLength="16.2" lengthAdjust="spacingAndGlyphs" fill="#000">13E</text>
<line x1="256.5" y1="531" x2="256.5" y2="534" stroke="#000" stroke-width="1"/>
<text x="248.4" y="543.9" font-size="11.2" textLength="16.2" lengthAdjust="spacingAndGlyphs" fill="#000">14E</text>
<line x1="317.5" y1="531" x2="317.5" y2="534" stroke="#000" stroke-width="1"/>
<text x="309.4" y="543.9" font-size="11.2" textLength="16.2" lengthAdjust="spacingAndGlyphs" fill="#000">15E</text>
<line x1="377.5" y1="531" x2="377.5" y2="534" stroke="#000" stroke-width="1"/>
<text x="369.4" y="543.9" font-size="11.2" textLength="16.2" lengthAdjust="spacingAndGlyphs" fill="#000">16E</text>
<line x1="437.5" y1="531" x2="437.5" y2="534" stroke="#000" stroke-width="1"/>
<text x="429.4" y="543.9" font-size="11.2" textLength="16.2" lengthAdjust="spacingAndGlyphs" fill="#000">17E</text>
<line x1="498.5" y1="531" x2="498.5" y2="534" stroke="#000" stroke-width="1"/>
<text x="490.4" y="543.9" font-size="11.2" textLength="16.2" lengthAdjust="spacingAndGlyphs" fill="#000">18E</text>
<line x1="558.5" y1="531" x2="558.5" y2="534" stroke="#000" stroke-width="1"/>
<text x="550.4" y="543.9" font-size="11.2" textLength="16.2" lengthAdjust="spacingAndGlyphs" fill="#000">19E</text>
<line x1="618.5" y1="531" x2="618.5" y2="534" stroke="#000" stroke-width="1"/>
<text x="610.4" y="543.9" font-size="11.2" textLength="16.2" lengthAdjust="spacingAndGlyphs" fill="#000">20E</text>
<line x1="116" y1="106.5" x2="119" y2="106.5" stroke="#000" stroke-width="1"/>
<text x="97" y="110.5" font-size="10.6" textLength="17.1" lengthAdjust="spacingAndGlyphs" fill="#000">46N</text>
<line x1="116" y1="180.5" x2="119" y2="180.5" stroke="#000" stroke-width="1"/>
<text x="97" y="184.5" font-size="10.6" textLength="17.1" lengthAdjust="spacingAndGlyphs" fill="#000">45N</text>
<line x1="116" y1="254.5" x2="119" y2="254.5" stroke="#000" stroke-width="1"/>
<text x="97" y="258.5" font-size="10.6" textLength="17.1" lengthAdjust="spacingAndGlyphs" fill="#000">44N</text>
<line x1="116" y1="327.5" x2="119" y2="327.5" stroke="#000" stroke-width="1"/>
<text x="97" y="331.5" font-size="10.6" textLength="17.1" lengthAdjust="spacingAndGlyphs" fill="#000">43N</text>
<line x1="116" y1="401.5" x2="119" y2="401.5" stroke="#000" stroke-width="1"/>
<text x="97" y="405.5" font-size="10.6" textLength="17.1" lengthAdjust="spacingAndGlyphs" fill="#000">42N</text>
<line x1="116" y1="475.5" x2="119" y2="475.5" stroke="#000" stroke-width="1"/>
<text x="97" y="479.5" font-size="10.6" textLength="17.1" lengthAdjust="spacingAndGlyphs" fill="#000">41N</text>
<rect x="652" y="77.20" width="15" height="18.61" fill="#fdebd8"/>
<rect x="652" y="95.81" width="15" height="18.61" fill="#d8bcd8"/>
<rect x="652" y="114.42" width="15" height="18.61" fill="#dc9edc"/>
<rect x="652" y="133.03" width="15" height="18.61" fill="#b450d2"/>
<rect x="652" y="151.64" width="15" height="18.61" fill="#8a0096"/>
<rect x="652" y="170.25" width="15" height="18.61" fill="#9c0000"/>
<rect x="652" y="188.86" width="15" height="18.61" fill="#cc0000"/>
<rect x="652" y="207.47" width="15" height="18.61" fill="#ff0000"/>
<rect x="652" y="226.08" width="15" height="18.61" fill="#ff5a00"/>
<rect x="652" y="244.69" width="15" height="18.61" fill="#f08228"/>
<rect x="652" y="263.30" width="15" height="18.61" fill="#e6af2d"/>
<rect x="652" y="281.91" width="15" height="18.61" fill="#e6dc32"/>
<rect x="652" y="300.52" width="15" height="18.61" fill="#f0f050"/>
<rect x="652" y="319.13" width="15" height="18.61" fill="#e0f0a0"/>
<rect x="652" y="337.74" width="15" height="18.61" fill="#a0e632"/>
<rect x="652" y="356.35" width="15" height="18.61" fill="#00dc00"/>
<rect x="652" y="374.96" width="15" height="18.61" fill="#00b000"/>
<rect x="652" y="393.57" width="15" height="18.61" fill="#008000"/>
<rect x="652" y="412.18" width="15" height="18.61" fill="#1e3cff"/>
<rect x="652" y="430.79" width="15" height="18.61" fill="#00a0e6"/>
<rect x="652" y="449.40" width="15" height="18.61" fill="#add8e6"/>
<rect x="652" y="468.01" width="15" height="18.61" fill="#e0ffff"/>
<text x="670.2" y="81.4" font-size="12.3" textLength="14.2" lengthAdjust="spacingAndGlyphs" fill="#000">29</text>
<text x="670.2" y="100.0" font-size="12.3" textLength="14.2" lengthAdjust="spacingAndGlyphs" fill="#000">27</text>
<text x="670.2" y="118.6" font-size="12.3" textLength="14.2" lengthAdjust="spacingAndGlyphs" fill="#000">25</text>
<text x="670.2" y="137.2" font-size="12.3" textLength="14.2" lengthAdjust="spacingAndGlyphs" fill="#000">23</text>
<text x="670.2" y="155.8" font-size="12.3" textLength="14.2" lengthAdjust="spacingAndGlyphs" fill="#000">21</text>
<text x="670.2" y="174.4" font-size="12.3" textLength="14.2" lengthAdjust="spacingAndGlyphs" fill="#000">19</text>
<text x="670.2" y="193.1" font-size="12.3" textLength="14.2" lengthAdjust="spacingAndGlyphs" fill="#000">17</text>
<text x="670.2" y="211.7" font-size="12.3" textLength="14.2" lengthAdjust="spacingAndGlyphs" fill="#000">15</text>
<text x="670.2" y="230.3" font-size="12.3" textLength="14.2" lengthAdjust="spacingAndGlyphs" fill="#000">13</text>
<text x="670.2" y="248.9" font-size="12.3" textLength="14.2" lengthAdjust="spacingAndGlyphs" fill="#000">11</text>
<text x="670.2" y="267.5" font-size="12.3" textLength="6.2" lengthAdjust="spacingAndGlyphs" fill="#000">9</text>
<text x="670.2" y="286.1" font-size="12.3" textLength="6.2" lengthAdjust="spacingAndGlyphs" fill="#000">7</text>
<text x="670.2" y="304.7" font-size="12.3" textLength="6.2" lengthAdjust="spacingAndGlyphs" fill="#000">5</text>
<text x="670.2" y="323.3" font-size="12.3" textLength="6.2" lengthAdjust="spacingAndGlyphs" fill="#000">3</text>
<text x="670.2" y="341.9" font-size="12.3" textLength="6.2" lengthAdjust="spacingAndGlyphs" fill="#000">1</text>
<text x="670.8" y="360.5" font-size="12.3" textLength="15.2" lengthAdjust="spacingAndGlyphs" fill="#000">−1</text>
<text x="670.8" y="379.2" font-size="12.3" textLength="15.2" lengthAdjust="spacingAndGlyphs" fill="#000">−3</text>
<text x="670.8" y="397.8" font-size="12.3" textLength="15.2" lengthAdjust="spacingAndGlyphs" fill="#000">−5</text>
<text x="670.8" y="416.4" font-size="12.3" textLength="15.2" lengthAdjust="spacingAndGlyphs" fill="#000">−7</text>
<text x="670.8" y="435.0" font-size="12.3" textLength="15.2" lengthAdjust="spacingAndGlyphs" fill="#000">−9</text>
<text x="670.8" y="453.6" font-size="12.3" textLength="24.2" lengthAdjust="spacingAndGlyphs" fill="#000">−11</text>
<text x="670.8" y="472.2" font-size="12.3" textLength="24.2" lengthAdjust="spacingAndGlyphs" fill="#000">−13</text>
<text x="670.8" y="490.8" font-size="12.3" textLength="24.2" lengthAdjust="spacingAndGlyphs" fill="#000">−15</text>
<text x="670.8" y="509.4" font-size="12.3" textLength="24.2" lengthAdjust="spacingAndGlyphs" fill="#000">−17</text>
<text x="664" y="529.5" font-size="10.5" textLength="35" lengthAdjust="spacingAndGlyphs" fill="#000">(st. C)</text>
<text x="170.8" y="39.6" font-size="14.6" textLength="97.4" lengthAdjust="spacingAndGlyphs" fill="#000" stroke="#000" stroke-width="0.25" style="font-family:'DejaVu Sans',sans-serif;font-weight:200">Temperatura</text>
<text x="279.3" y="39.6" font-size="14.6" textLength="41.8" lengthAdjust="spacingAndGlyphs" fill="#000" stroke="#000" stroke-width="0.25" style="font-family:'DejaVu Sans',sans-serif;font-weight:200">zraka</text>
<text x="330.8" y="39.6" font-size="14.6" textLength="18.0" lengthAdjust="spacingAndGlyphs" fill="#000" stroke="#000" stroke-width="0.25" style="font-family:'DejaVu Sans',sans-serif;font-weight:200">na</text>
<text x="359.3" y="39.6" font-size="14.6" textLength="23.5" lengthAdjust="spacingAndGlyphs" fill="#000" stroke="#000" stroke-width="0.25" style="font-family:'DejaVu Sans',sans-serif;font-weight:200">2m</text>
<text x="394.5" y="39.6" font-size="14.6" textLength="10.5" lengthAdjust="spacingAndGlyphs" fill="#000" stroke="#000" stroke-width="0.25" style="font-family:'DejaVu Sans',sans-serif;font-weight:200">u</text>
<text x="412.0" y="39.6" font-size="14.6" textLength="19.6" lengthAdjust="spacingAndGlyphs" fill="#000" stroke="#000" stroke-width="0.25" style="font-family:'DejaVu Sans',sans-serif;font-weight:200">00</text>
<text x="441.8" y="39.6" font-size="14.6" textLength="28.1" lengthAdjust="spacingAndGlyphs" fill="#000" stroke="#000" stroke-width="0.25" style="font-family:'DejaVu Sans',sans-serif;font-weight:200">UTC</text>
<text x="480.1" y="39.6" font-size="14.6" textLength="86.3" lengthAdjust="spacingAndGlyphs" fill="#000" stroke="#000" stroke-width="0.25" style="font-family:'DejaVu Sans',sans-serif;font-weight:200">14FEB2011</text>
</svg></body></html>
